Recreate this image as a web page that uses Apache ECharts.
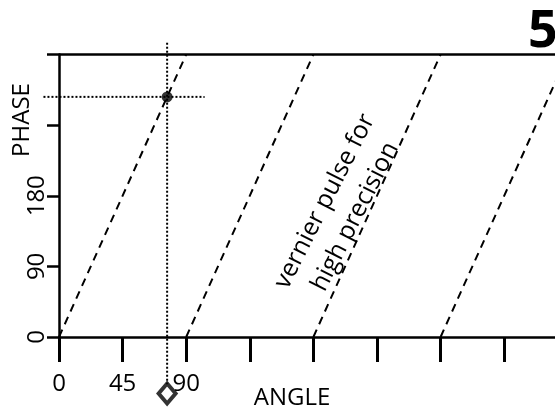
<!DOCTYPE html>
<html>
<head>
<meta charset="utf-8">
<script src="https://cdn.jsdelivr.net/npm/echarts@6/dist/echarts.min.js"></script>
<style>
html,body{margin:0;padding:0;background:#fff;}
#chart{width:555px;height:408px;}
</style>
</head>
<body>
<div id="chart"></div>
<script>
// ---- data ----
const angleTicks = [0, 45, 90, 135, 180, 225, 270, 315, 360];
const angleTickLabels = ['0', '45', '90', '', '', '', '', '', ''];
const phaseTicks = [0, 90, 180, 270, 360];
const phaseTickLabels = ['0', '90', '180', '', ''];
const rampStarts = [0, 90, 180, 270];      // angle where each phase ramp starts at 0
const rampEnds = [90, 180, 270, 360];      // angle where each ramp reaches 360
const rampPhaseStart = 0;
const rampPhaseEnd = 360;
const probeAngle = 76.5;
const probePhase = 306;
const crossVertical = [375, -61];          // phase extent of vertical dotted line
const crossHorizontal = [-11, 103];        // angle extent of horizontal dotted line
const diamondPhase = -72;
const panelLabel = '5';
const xName = 'ANGLE';
const yName = 'PHASE';
const noteText = 'vernier pulse for\nhigh precision';

const FONT = 'Open Sans';
const chart = echarts.init(document.getElementById('chart'), null, {renderer: 'canvas'});

const crossSegments = [
  [[probeAngle, crossVertical[0]], [probeAngle, crossVertical[1]]],
  [[crossHorizontal[0], probePhase], [crossHorizontal[1], probePhase]]
];

const series = [];
rampStarts.forEach((s, i) => {
  series.push({
    type: 'line',
    data: [[s, rampPhaseStart], [rampEnds[i], rampPhaseEnd]],
    symbol: 'none',
    lineStyle: {color: '#000', width: 2, type: [8, 6]},
    silent: true,
    z: 2
  });
});
series.push({
  type: 'custom',
  clip: false,
  data: crossSegments.map((seg, i) => [i]),
  renderItem: function (params, api) {
    const seg = crossSegments[api.value(0)];
    const p1 = api.coord(seg[0]);
    const p2 = api.coord(seg[1]);
    return {
      type: 'line',
      shape: {x1: p1[0], y1: p1[1], x2: p2[0], y2: p2[1]},
      style: {stroke: '#000', lineWidth: 2, lineDash: [2, 2]}
    };
  },
  z: 3
});
series.push({
  type: 'scatter',
  data: [[probeAngle, probePhase]],
  symbol: 'circle', symbolSize: 11,
  itemStyle: {color: '#000'}, z: 5
});
series.push({
  type: 'scatter',
  data: [[probeAngle, diamondPhase]],
  symbol: 'diamond', symbolSize: [17, 20], clip: false,
  itemStyle: {color: '#fff', borderColor: '#000', borderWidth: 4}, z: 5
});
// top boundary line at phase 360
series.push({
  type: 'line', data: [], symbol: 'none',
  markLine: {
    silent: true, symbol: 'none', label: {show: false},
    lineStyle: {color: '#000', width: 2.5, type: 'solid'},
    data: [{yAxis: rampPhaseEnd}]
  }
});

const option = {
  animation: false,
  backgroundColor: '#fff',
  grid: {left: 59, top: 54.5, right: -12.8, bottom: 71, containLabel: false, outerBoundsMode: 'none'},
  xAxis: {
    type: 'value', min: 0, max: 360, interval: 45,
    axisLine: {show: true, lineStyle: {color: '#000', width: 2.5}},
    axisTick: {show: true, inside: false, length: 25, lineStyle: {color: '#000', width: 3}},
    axisLabel: {
      margin: 35, color: '#000', fontFamily: FONT, fontSize: 24,
      formatter: v => { const i = angleTicks.indexOf(v); return i >= 0 ? angleTickLabels[i] : ''; }
    },
    splitLine: {show: false}
  },
  yAxis: {
    type: 'value', min: 0, max: 360, interval: 90,
    axisLine: {show: true, lineStyle: {color: '#000', width: 2.5}},
    axisTick: {show: true, length: 12, lineStyle: {color: '#000', width: 2.5}},
    axisLabel: {
      rotate: 90, margin: 10, color: '#000', fontFamily: FONT, fontSize: 24,
      formatter: v => { const i = phaseTicks.indexOf(v); return i >= 0 ? phaseTickLabels[i] : ''; }
    },
    splitLine: {show: false}
  },
  graphic: [
    {type: 'text', x: 528, y: 32, style: {text: panelLabel, fill: '#000', font: 'bold 52px "Open Sans"', align: 'left', verticalAlign: 'middle'}},
    {type: 'text', x: 292, y: 398, style: {text: xName, fill: '#000', font: '24px "Open Sans"', align: 'center', verticalAlign: 'middle'}},
    {type: 'text', x: 22, y: 120, rotation: Math.PI / 2, style: {text: yName, fill: '#000', font: '24px "Open Sans"', align: 'center', verticalAlign: 'middle'}},
    {type: 'text', x: 340, y: 209, rotation: 63 * Math.PI / 180, style: {text: noteText, fill: '#000', font: '25px "Open Sans"', align: 'center', verticalAlign: 'middle', lineHeight: 34}}
  ],
  series: series
};
chart.setOption(option);
</script>
</body>
</html>
